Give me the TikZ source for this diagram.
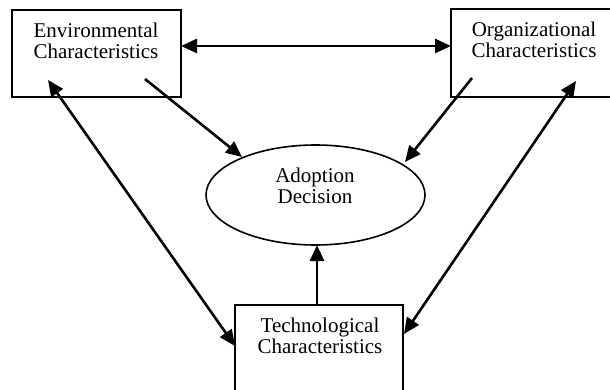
\documentclass[tikz,border=0pt]{standalone}
\usepackage{fontspec}
\setmainfont{Liberation Serif}
\usetikzlibrary{arrows.meta,shapes.geometric}
\begin{document}
\begin{tikzpicture}[x=1pt,y=-1pt,
  box/.style={draw,line width=2pt,inner sep=0pt},
  lbl/.style={align=center,inner sep=0pt,font=\fontsize{21}{21}\selectfont},
  tip/.style={Triangle[length=16pt,width=14pt]},
  conn/.style={line width=2.6pt,-{Triangle[length=16pt,width=14pt]}},
  both/.style={line width=2.6pt,{Triangle[length=16pt,width=14pt]}-{Triangle[length=16pt,width=14pt]}}]
\useasboundingbox (0,0) rectangle (610,390);
\clip (0,0) rectangle (610,390);
% boxes
\node[box,minimum width=169pt,minimum height=87pt] (env) at (96.5,53.5) {};
\node[box,minimum width=180pt,minimum height=88pt] (org) at (541,53) {};
\node[box,minimum width=168pt,minimum height=110pt] (tech) at (319,360) {};
\node[draw,ellipse,line width=1.6pt,minimum width=219pt,minimum height=100pt,inner sep=0pt] (dec) at (315.5,195) {};
% labels
\node[lbl] (envt) at (96,41) {Environmental\\Characteristics};
\node[lbl] (orgt) at (534,40) {Organizational\\Characteristics};
\node[lbl] (techt) at (320,336) {Technological\\Characteristics};
\node[lbl] (dect) at (315,186) {Adoption\\Decision};
% connector ends
\coordinate (e1) at (145,79);
\coordinate (d1) at (242,157);
\coordinate (o1) at (472,78);
\coordinate (d2) at (405,162);
\coordinate (e2) at (48,80);
\coordinate (t1) at (235,346);
\coordinate (o2) at (576,81);
\coordinate (t2) at (404,334);
\coordinate (t3) at (317,305);
\coordinate (d3) at (317,245);
\coordinate (eh) at (181,46);
\coordinate (oh) at (451,46);
% connectors
\draw[both] (eh) -- (oh);
\draw[conn] (e1) -- (d1);
\draw[conn] (o1) -- (d2);
\draw[conn] (t3) -- (d3);
\draw[both] (e2) -- (t1);
\draw[both] (o2) -- (t2);
\end{tikzpicture}
\end{document}
